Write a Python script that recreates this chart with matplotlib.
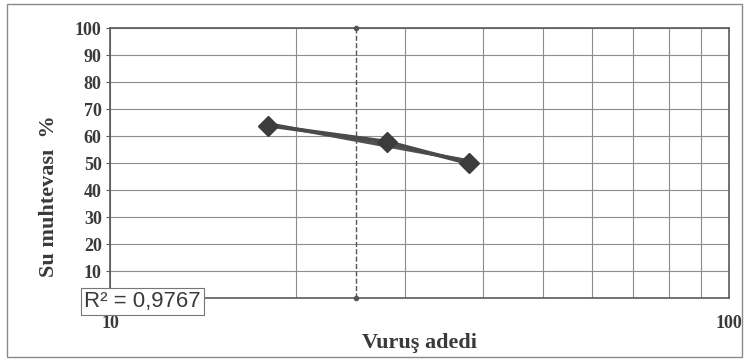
import numpy as np
import matplotlib
matplotlib.use("Agg")
import matplotlib.pyplot as plt
from matplotlib.ticker import FixedLocator, NullFormatter
from matplotlib.patches import Rectangle

# data
blows = [18, 28, 38]
water = [64, 58, 50]
limit_x = 25
r2_text = "R² = 0,9767"
y_ticks = list(range(0, 101, 10))
x_minor = [20, 30, 40, 50, 60, 70, 80, 90]

plt.rcParams['font.family'] = ['Liberation Serif', 'DejaVu Serif']

fig = plt.figure(figsize=(7.49, 3.63), dpi=100)
fig.patches.append(Rectangle((0.009, 0.017), 0.982, 0.972, transform=fig.transFigure,
                             fill=False, edgecolor='#8a8a8a', linewidth=1.0))
ax = fig.add_axes([0.1469, 0.1782, 0.8264, 0.7438])

ax.set_xscale('log')
ax.set_xlim(10, 100)
ax.set_ylim(0, 100)

ax.xaxis.set_major_locator(FixedLocator([10, 100]))
ax.xaxis.set_minor_locator(FixedLocator(x_minor))
ax.xaxis.set_minor_formatter(NullFormatter())
ax.set_xticklabels(['10', '100'])
ax.set_yticks(y_ticks)

ax.grid(True, which='both', axis='x', color='#8c8c8c', linewidth=0.8)
ax.grid(True, which='major', axis='y', color='#8c8c8c', linewidth=0.8)
ax.set_axisbelow(True)

for s in ax.spines.values():
    s.set_color('#5a5a5a')
    s.set_linewidth(1.2)

ax.tick_params(axis='both', which='both', length=0, labelsize=13, labelcolor='#3a3a3a')
ax.tick_params(axis='y', length=3, color='#5a5a5a', pad=3)
ax.tick_params(axis='x', pad=12)
for lbl in ax.get_xticklabels() + ax.get_yticklabels():
    lbl.set_fontweight('bold')

# vertical dashed line at 25 blows
ax.plot([limit_x, limit_x], [0, 100], color='#555555', linestyle='--', linewidth=1.0,
        marker='o', markersize=3, clip_on=False, zorder=3)

# logarithmic trendline
a, b = np.polyfit(np.log(blows), water, 1)
xs = np.exp(np.linspace(np.log(blows[0]), np.log(blows[-1]), 50))
ax.plot(xs, a * np.log(xs) + b, color='#505050', linewidth=2.5, zorder=4)

ax.plot(blows, water, color='#4a4a4a', linewidth=2.8, marker='D', markersize=10,
        markerfacecolor='#3c3c3c', markeredgecolor='#3c3c3c', zorder=5)

ax.set_xlabel('Vuruş adedi', fontsize=16, fontweight='bold', color='#3a3a3a', labelpad=1)
ax.set_ylabel('Su muhtevası  %', fontsize=16, fontweight='bold', color='#3a3a3a')
ax.yaxis.set_label_coords(-0.082, 0.38)

fig.text(0.112, 0.169, r2_text, fontsize=16, color='#3a3a3a',
         family=['Liberation Sans', 'DejaVu Sans'], va='center', ha='left',
         bbox=dict(boxstyle='square,pad=0.15', facecolor='white', edgecolor='#777777',
                   linewidth=0.8))

fig.savefig('out.png', dpi=100)
